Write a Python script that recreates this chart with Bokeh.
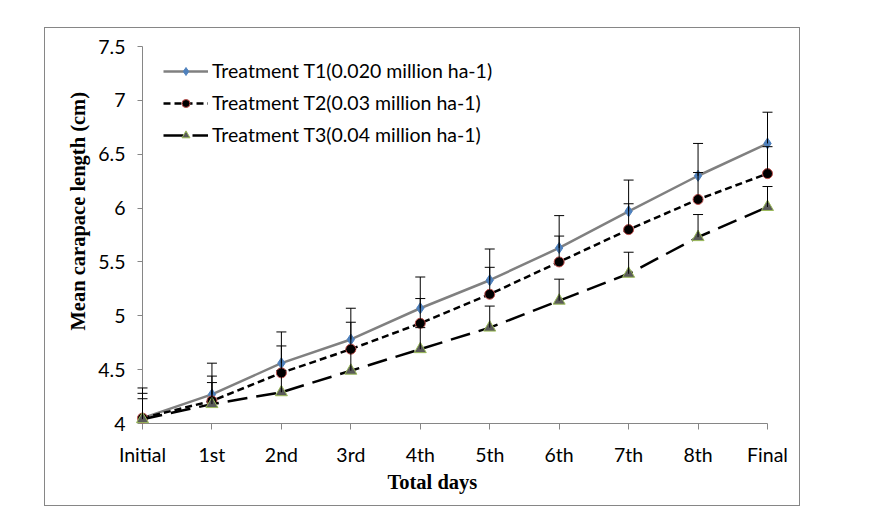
from bokeh.plotting import figure
from bokeh.models import (Range1d, FixedTicker, NumeralTickFormatter, Title,
                          ColumnDataSource, Legend, LegendItem, InlineStyleSheet)
from bokeh.embed import file_html
from bokeh.resources import INLINE

categories = ["Initial", "1st", "2nd", "3rd", "4th", "5th", "6th", "7th", "8th", "Final"]
x_pos = list(range(len(categories)))
y_ticks = [4, 4.5, 5, 5.5, 6, 6.5, 7, 7.5]

t1 = [4.05, 4.27, 4.56, 4.78, 5.07, 5.33, 5.63, 5.97, 6.30, 6.60]
t1_err = [0.28, 0.29, 0.29, 0.29, 0.29, 0.29, 0.30, 0.29, 0.30, 0.29]
t2 = [4.05, 4.21, 4.47, 4.69, 4.93, 5.20, 5.50, 5.80, 6.08, 6.32]
t2_err = [0.23, 0.23, 0.25, 0.25, 0.23, 0.25, 0.24, 0.24, 0.25, 0.25]
t3 = [4.04, 4.18, 4.29, 4.49, 4.69, 4.89, 5.14, 5.39, 5.73, 6.01]
t3_err = [0.19, 0.20, 0.20, 0.20, 0.20, 0.20, 0.20, 0.20, 0.21, 0.19]

labels = ["Treatment T1(0.020 million ha-1)",
          "Treatment T2(0.03 million ha-1)",
          "Treatment T3(0.04 million ha-1)"]
x_title = "Total days"
y_title = "Mean carapace length (cm)"

TICK_FONT = "Lato"
AXIS_GRAY = "#868686"

p = figure(width=754, height=477, x_range=Range1d(0, 9), y_range=Range1d(4, 7.5),
           output_backend="svg", toolbar_location=None,
           min_border_left=97, min_border_right=32, min_border_top=18, min_border_bottom=82)
p.margin = (28, 0, 0, 45)
p.stylesheets = [InlineStyleSheet(css=":host { outline: 1px solid #868686; }")]
p.outline_line_color = None
p.xgrid.visible = False
p.ygrid.visible = False
p.background_fill_color = "white"
p.border_fill_color = "white"

# axes
p.xaxis.ticker = FixedTicker(ticks=x_pos)
p.xaxis.major_label_overrides = {i: c for i, c in zip(x_pos, categories)}
p.yaxis.ticker = FixedTicker(ticks=y_ticks)
p.yaxis.formatter = NumeralTickFormatter(format="0.[0]")
for ax in (p.xaxis, p.yaxis):
    ax.axis_line_color = AXIS_GRAY
    ax.major_tick_line_color = AXIS_GRAY
    ax.minor_tick_line_color = None
    ax.major_tick_in = 0
    ax.major_label_text_font = TICK_FONT
    ax.major_label_text_font_size = "19.5px"
    ax.major_label_text_color = "black"
p.xaxis.major_tick_out = 6
p.yaxis.major_tick_out = 5
p.xaxis.major_label_standoff = 13
p.yaxis.major_label_standoff = 12

# axis titles (side titles so they can be positioned like the original)
yt = Title(text=y_title, align="left", offset=93, standoff=14,
           text_font="Liberation Serif", text_font_style="bold", text_font_size="20.5px",
           text_color="black")
p.add_layout(yt, "left")
xt = Title(text=x_title, align="left", offset=245, standoff=0,
           text_font="Liberation Serif", text_font_style="bold", text_font_size="20.5px",
           text_color="black")
p.add_layout(xt, "below")

series = [
    (t1, t1_err, dict(line_color="#808080", line_width=2.5),
     dict(marker="diamond", size=11, fill_color="#4F81BD", line_color="#4F81BD")),
    (t2, t2_err, dict(line_color="black", line_width=2.5, line_dash="7 4"),
     dict(marker="circle", size=10, fill_color="black", line_color="#C0504D", line_width=1)),
    (t3, t3_err, dict(line_color="black", line_width=2.5, line_dash="20 9"),
     dict(marker="triangle", size=12, fill_color="#5A5A5A", line_color="#9BBB59", line_width=1)),
]

items = []
for (vals, errs, lstyle, mstyle), lab in zip(series, labels):
    src = ColumnDataSource(dict(x=x_pos, y=vals, upper=[v + e for v, e in zip(vals, errs)]))
    ln = p.line("x", "y", source=src, level="annotation", **lstyle)
    sc = p.scatter("x", "y", source=src, level="annotation", **mstyle)
    p.segment(x0="x", y0="y", x1="x", y1="upper", source=src, line_color="black",
              line_width=1, level="annotation")
    p.scatter("x", "upper", source=src, marker="dash", size=10, line_color="black",
              line_width=1, level="annotation")
    items.append(LegendItem(label=lab, renderers=[ln, sc]))

legend = Legend(items=items, location=(21, 277))
legend.label_text_font = TICK_FONT
legend.label_text_font_size = "19.5px"
legend.label_text_color = "black"
legend.glyph_width = 45
legend.glyph_height = 20
legend.label_height = 20
legend.spacing = 9
legend.padding = 0
legend.margin = 0
legend.label_standoff = 4
legend.border_line_color = None
legend.background_fill_alpha = 0
p.add_layout(legend)

open("out.html", "w").write(file_html(p, INLINE))
